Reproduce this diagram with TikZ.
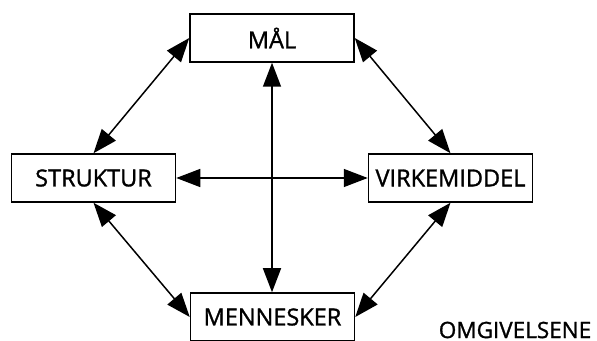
\documentclass[tikz,border=0pt]{standalone}
\usepackage{fontspec}
\setmainfont[FakeBold=1.2]{Open Sans}
\usetikzlibrary{arrows.meta}
\begin{document}
\begin{tikzpicture}[x=1pt,y=1pt,line width=1.5pt,
		boks/.style={draw,fill=white,minimum width=164pt,minimum height=48pt,inner sep=0pt,font=\fontsize{23.5}{23.5}\selectfont},
		pil/.style={{Triangle[length=24pt,width=18pt]}-{Triangle[length=24pt,width=18pt]}}]
		\useasboundingbox (0,0) rectangle (597,340);
		\node[boks] (maal) at (272,302) {MÅL};
		\node[boks] (struktur) at (93.5,162) {STRUKTUR};
		\node[boks] (virkemiddel) at (450.5,162) {VIRKEMIDDEL};
		\node[boks] (mennesker) at (272.5,23) {MENNESKER};
		\node[inner sep=0pt,font=\fontsize{22.5}{22.5}\selectfont] (omgivelsene) at (515,10) {OMGIVELSENE};
		% kryss i midten
		\draw[pil] (maal.south) -- (maal.south |- mennesker.north);
		\draw[pil] (struktur.east) -- (virkemiddel.west);
		% sidene rundt
		\draw[pil] (struktur.north) -- (maal.west);
		\draw[pil] (maal.east) -- (virkemiddel.north);
		\draw[pil] (struktur.south) -- (mennesker.west);
		\draw[pil] (mennesker.east) -- (virkemiddel.south);
	\end{tikzpicture}
\end{document}
